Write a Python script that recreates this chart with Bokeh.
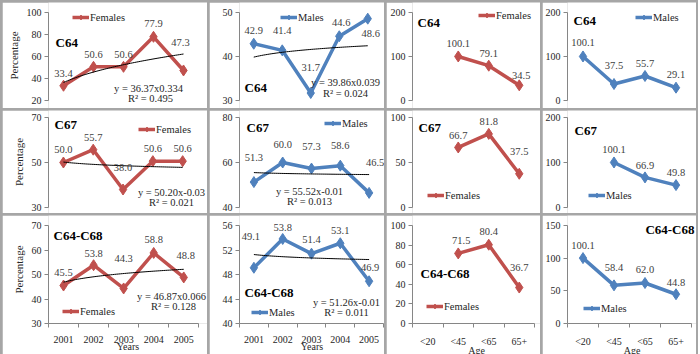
import numpy as np
from bokeh.plotting import figure
from bokeh.models import (GridBox, Range1d, FixedTicker, ColumnDataSource, LabelSet,
                          Label, Legend, LegendItem)
from bokeh.embed import file_html
from bokeh.resources import INLINE

# ---------------- data ----------------
years = ["2001", "2002", "2003", "2004", "2005"]
ages = ["<20", "<45", "<65", "65+"]

c64_f_year = [33.4, 50.6, 50.6, 77.9, 47.3]
c64_m_year = [42.9, 41.4, 31.7, 44.6, 48.6]
c64_f_age = [None, 100.1, 79.1, 34.5]
c64_m_age = [100.1, 37.5, 55.7, 29.1]

c67_f_year = [50.0, 55.7, 38.0, 50.6, 50.6]
c67_m_year = [51.3, 60.0, 57.3, 58.6, 46.5]
c67_f_age = [None, 66.7, 81.8, 37.5]
c67_m_age = [None, 100.1, 66.9, 49.8]

all_f_year = [45.5, 53.8, 44.3, 58.8, 48.8]
all_m_year = [49.1, 53.8, 51.4, 53.1, 46.9]
all_f_age = [None, 71.5, 80.4, 36.7]
all_m_age = [100.1, 58.4, 62.0, 44.8]

# power trendlines printed on the chart: y = a * x^b, R^2
trend_c64_f = (36.37, 0.334, 0.495)
trend_c64_m = (39.86, 0.039, 0.024)
trend_c67_f = (50.20, -0.03, 0.021)
trend_c67_m = (55.52, -0.01, 0.013)
trend_all_f = (46.87, 0.066, 0.128)
trend_all_m = (51.26, -0.01, 0.011)

# ---------------- styling / geometry (page pixels) ----------------
FONT = "Liberation Serif"
RED = "#C0504D"
BLUE = "#4F81BD"
TXT = "#262626"
AXC = "#868686"

col_left = [2, 209, 386, 542]
col_w = [205, 175, 154, 154]
row_top = [2, 110, 215]
row_h = [106, 103, 143]          # last row runs a little past the window bottom (clipped)
tick_px = [(12, 100), (117, 207), (225, 323)]   # page y of top / bottom tick per row
axis_geo = [                                     # (page x of y-axis, category spacing)
    [(48, 30), (239, 28.5), (412, 30.5), (567, 31)],
    [(47, 30), (238, 29), (412, 30.5), (567, 31)],
    [(43, 31), (238, 29), (412, 30.5), (567, 31)],
]

panels = [
    # row 0
    dict(vals=c64_f_year, cats=years, color=RED, leg="Females", yr=(20, 100), yt=[20, 40, 60, 80, 100],
         title="C64", tpos=(55, 42), lpos=(72, 17), trend=trend_c64_f, eqpos=(148, 88, 150, 98),
         off=[(0, 12), (0, 12), (0, 12), (0, 13), (-3, 28)]),
    dict(vals=c64_m_year, cats=years, color=BLUE, leg="Males", yr=(30, 50), yt=[30, 40, 50],
         title="C64", tpos=(244, 87), lpos=(280, 17), trend=trend_c64_m, eqpos=(345, 82, 345, 93),
         off=[(0, 13), (0, 20), (0, 26), (2, 14), (3, -15)]),
    dict(vals=c64_f_age, cats=ages, color=RED, leg="Females", yr=(0, 200), yt=[0, 100, 200],
         title="C64", tpos=(417, 22), lpos=(478, 15),
         off=[(0, 0), (0, 13), (0, 12), (2, 10)]),
    dict(vals=c64_m_age, cats=ages, color=BLUE, leg="Males", yr=(0, 200), yt=[0, 100, 200],
         title="C64", tpos=(573, 20), lpos=(635, 17),
         off=[(0, 14), (0, 19), (0, 12), (0, 13)]),
    # row 1
    dict(vals=c67_f_year, cats=years, color=RED, leg="Females", yr=(30, 70), yt=[30, 50, 70],
         title="C67", tpos=(53, 124), lpos=(137, 129), trend=trend_c67_f, eqpos=(170, 192, 170, 202),
         off=[(0, 13), (0, 12), (0, 22), (0, 13), (0, 13)]),
    dict(vals=c67_m_year, cats=years, color=BLUE, leg="Males", yr=(40, 80), yt=[40, 60, 80],
         title="C67", tpos=(245, 127), lpos=(323, 123), trend=trend_c67_m, eqpos=(308, 191, 308, 201),
         off=[(0, 25), (0, 18), (0, 22), (0, 20), (6, 30)]),
    dict(vals=c67_f_age, cats=ages, color=RED, leg="Females", yr=(0, 100), yt=[0, 50, 100],
         title="C67", tpos=(418, 127), lpos=(427, 195),
         off=[(0, 0), (0, 12), (0, 12), (0, 22)]),
    dict(vals=c67_m_age, cats=ages, color=BLUE, leg="Males", yr=(0, 200), yt=[0, 100, 200],
         title="C67", tpos=(574, 130), lpos=(588, 195),
         off=[(0, 0), (0, 13), (0, 12), (0, 13)]),
    # row 2
    dict(vals=all_f_year, cats=years, color=RED, leg="Females", yr=(30, 70), yt=[30, 40, 50, 60, 70],
         title="C64-C68", tpos=(48, 235), lpos=(57, 311), trend=trend_all_f, eqpos=(166, 296, 168, 306),
         off=[(0, 13), (0, 12), (0, 30), (0, 13), (2, 22)], xlabel="Years"),
    dict(vals=all_m_year, cats=years, color=BLUE, leg="Males", yr=(40, 56), yt=[40, 44, 48, 52, 56],
         title="C64-C68", tpos=(243, 292), lpos=(250, 312), trend=trend_all_m, eqpos=(345, 302, 345, 312),
         off=[(-3, 31), (0, 11), (0, 14), (0, 13), (1, 14)], xlabel="Years"),
    dict(vals=all_f_age, cats=ages, color=RED, leg="Females", yr=(0, 100), yt=[0, 20, 40, 60, 80, 100],
         title="C64-C68", tpos=(420, 273), lpos=(426, 306),
         off=[(0, 0), (3, 13), (0, 13), (0, 20)], xlabel="Age"),
    dict(vals=all_m_age, cats=ages, color=BLUE, leg="Males", yr=(0, 150), yt=[0, 50, 100, 150],
         title="C64-C68", tpos=(694, 229), talign="right", lpos=(583, 308),
         off=[(0, 13), (0, 18), (0, 13), (0, 12)], xlabel="Age"),
]


def make_panel(i, spec):
    r, c = divmod(i, 4)
    fig_l, fig_w = col_left[c], col_w[c]
    fig_t, fig_h = row_top[r], row_h[r]
    ax_x, s = axis_geo[r][c]
    ytop, ybot = tick_px[r]
    fr_l, fr_r = ax_x, fig_l + fig_w
    fr_t = fig_t
    fr_b = fig_t + fig_h if r < 2 else ybot
    n = len(spec["cats"])
    ymin, ymax = spec["yr"]
    k = (ybot - ytop) / (ymax - ymin)
    x_end = 0.5 + (fr_r - fr_l) / s
    y_start = ymin - (fr_b - ybot) / k
    y_end = ymax + (ytop - fr_t) / k

    def sx(xa):
        return xa - fr_l

    def sy(ya):
        return fr_b - ya

    xs = np.arange(1, n + 1, dtype=float)
    ys = np.array(spec["vals"], dtype=float)

    p = figure(width=fig_w, height=fig_h, output_backend="svg", toolbar_location=None,
               x_range=Range1d(0.5, x_end), y_range=Range1d(y_start, y_end),
               x_axis_location="below" if r == 2 else None,
               min_border_left=fr_l - fig_l, min_border_right=0, min_border_top=0,
               min_border_bottom=fig_t + fig_h - fr_b)
    p.outline_line_color = None
    p.background_fill_color = "white"
    p.border_fill_color = "white"
    p.xgrid.visible = False
    p.ygrid.visible = False

    ya = p.yaxis[0]
    ya.bounds = (ymin, ymax)
    ya.ticker = FixedTicker(ticks=spec["yt"])
    ya.axis_line_color = AXC
    ya.major_tick_line_color = AXC
    ya.major_tick_out = 4
    ya.major_tick_in = 0
    ya.minor_tick_line_color = None
    ya.major_label_text_font = FONT
    ya.major_label_text_font_size = "10px"
    ya.major_label_text_color = TXT
    ya.major_label_standoff = 3
    if c == 0:
        ya.axis_label = "Percentage"
        ya.axis_label_text_font = FONT
        ya.axis_label_text_font_size = "11px"
        ya.axis_label_text_font_style = "normal"
        ya.axis_label_text_color = TXT
        ya.axis_label_standoff = 4

    if r == 2:
        xa = p.xaxis[0]
        xa.bounds = (0.5, n + 0.5)
        xa.ticker = FixedTicker(ticks=list(xs), minor_ticks=list(np.arange(0.5, n + 1, 1.0)))
        xa.major_label_overrides = {int(k_): lab for k_, lab in zip(xs, spec["cats"])}
        xa.axis_line_color = AXC
        xa.major_tick_out = 0
        xa.major_tick_in = 0
        xa.minor_tick_line_color = AXC
        xa.minor_tick_out = 4
        xa.minor_tick_in = 0
        xa.major_label_text_font = FONT
        xa.major_label_text_font_size = "10px"
        xa.major_label_text_color = TXT
        xa.major_label_standoff = 8
        xa.axis_label = spec["xlabel"]
        xa.axis_label_text_font = FONT
        xa.axis_label_text_font_size = "10px"
        xa.axis_label_text_font_style = "normal"
        xa.axis_label_text_color = TXT
        xa.axis_label_standoff = -5

    src = ColumnDataSource(dict(x=xs, y=ys))
    ln = p.line("x", "y", source=src, line_color=spec["color"], line_width=3.5)
    sc = p.scatter("x", "y", source=src, marker="diamond", size=11,
                   fill_color=spec["color"], line_color=spec["color"])

    # trendline (power fit printed on the chart)
    if "trend" in spec:
        a, b, r2 = spec["trend"]
        tx = np.linspace(1, n, 60)
        p.line(tx, a * tx ** b, line_color="black", line_width=1)
        ex, ey, rx, ry = spec["eqpos"]
        for txt, x0, y0 in ((f"y = {a:.2f}x{b:g}", ex, ey), (f"R\u00b2 = {r2:.3f}", rx, ry)):
            p.add_layout(Label(x=sx(x0), y=sy(y0), x_units="screen", y_units="screen", text=txt,
                               text_font=FONT, text_font_size="10.5px", text_color=TXT,
                               text_align="center", text_baseline="middle"))

    # data labels
    mask = ~np.isnan(ys)
    offs = np.array(spec["off"], dtype=float)
    lsrc = ColumnDataSource(dict(x=xs[mask], y=ys[mask], t=[f"{v:.1f}" for v in ys[mask]],
                                 dx=offs[mask, 0], dy=offs[mask, 1]))
    p.add_layout(LabelSet(x="x", y="y", text="t", source=lsrc, x_offset="dx", y_offset="dy",
                          text_font=FONT, text_font_size="10.5px", text_color="#404040",
                          text_align="center", text_baseline="middle"))

    # panel title
    tx0, ty0 = spec["tpos"]
    p.add_layout(Label(x=sx(tx0), y=sy(ty0), x_units="screen", y_units="screen", text=spec["title"],
                       text_font=FONT, text_font_size="13px", text_font_style="bold",
                       text_color="black", text_align=spec.get("talign", "left"),
                       text_baseline="middle"))

    # legend
    lx, ly = spec["lpos"]
    leg = Legend(items=[LegendItem(label=spec["leg"], renderers=[ln, sc])],
                 location=(sx(lx), sy(ly) - 6), background_fill_alpha=0, border_line_color=None,
                 padding=0, margin=0, spacing=0, glyph_width=17, glyph_height=12,
                 label_height=12, label_standoff=1, label_text_font=FONT,
                 label_text_font_size="10.5px", label_text_color=TXT)
    p.add_layout(leg)
    return p


children = []
for i, spec in enumerate(panels):
    r, c = divmod(i, 4)
    children.append((make_panel(i, spec), r, c))

grid = GridBox(children=children, spacing=2,
               styles={"background-color": "#A6A6A6", "padding": "2px 2px 0px 2px",
                       "box-sizing": "border-box", "height": "354px",
                       "max-height": "354px", "overflow": "hidden"})

open("out.html", "w").write(file_html(grid, INLINE))
